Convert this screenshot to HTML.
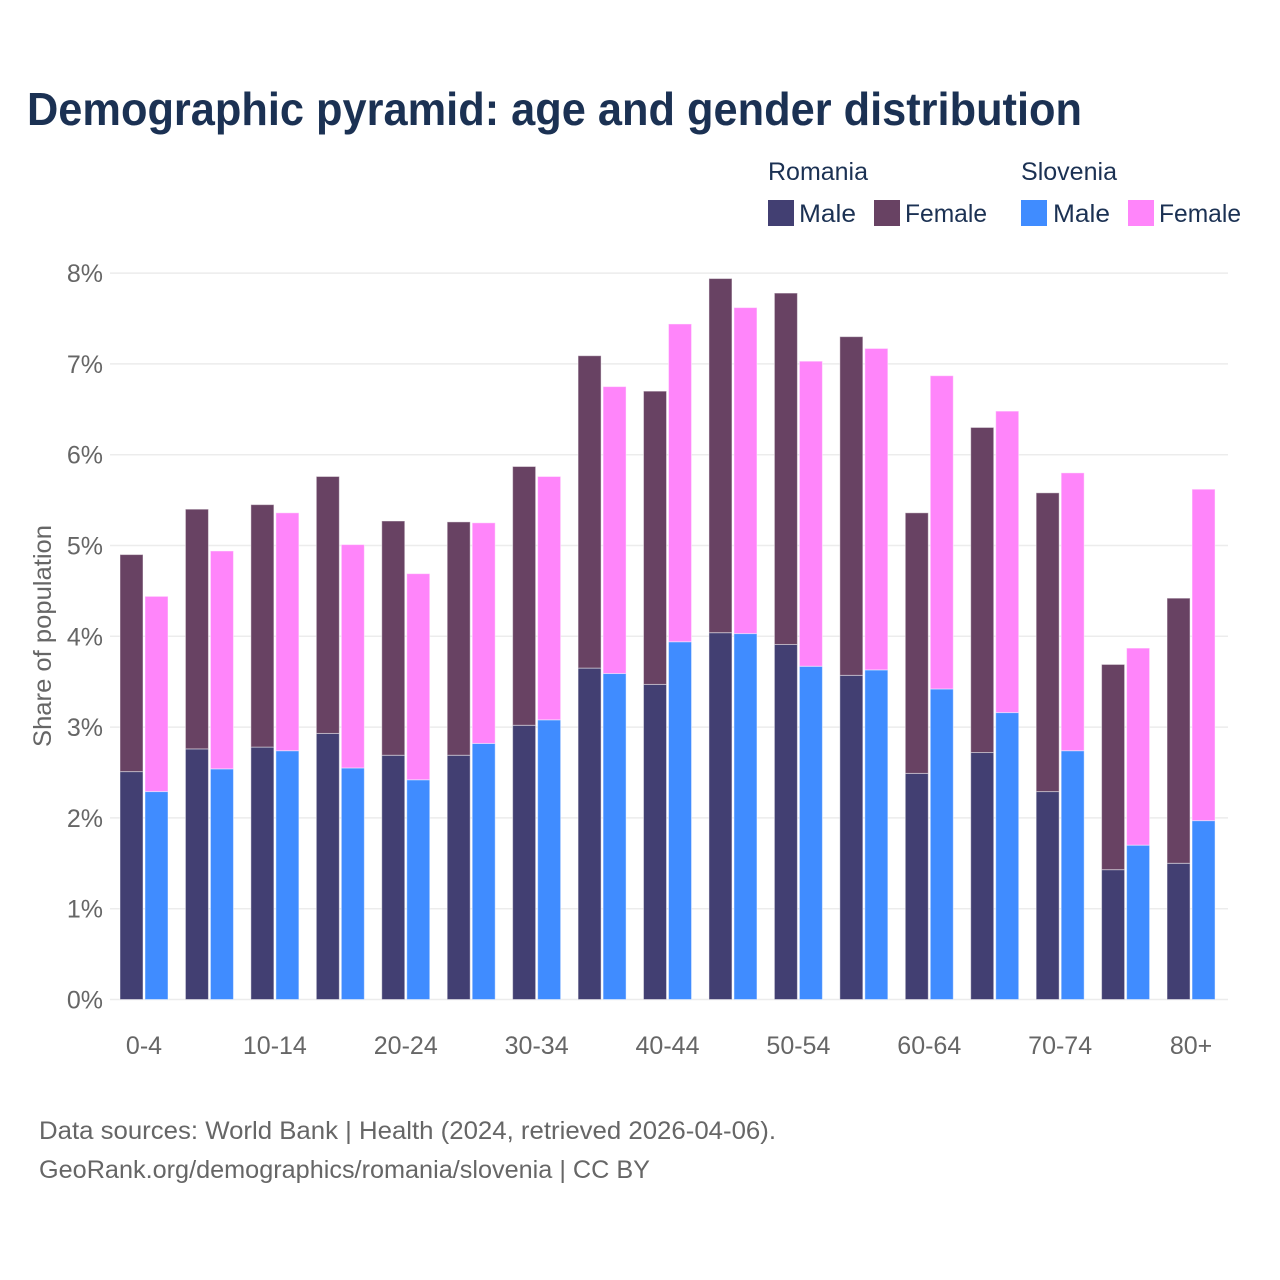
<!DOCTYPE html>
<html lang="en">
<head>
<meta charset="utf-8">
<title>Demographic pyramid</title>
<style>
html,body{margin:0;padding:0;background:#fff;}
svg{display:block;font-family:"Liberation Sans",sans-serif;}
.dark{fill:#1b3153;}
.grey{fill:#666;}
</style>
</head>
<body>
<svg id="chart" width="1280" height="1280" viewBox="0 0 1280 1280" xmlns="http://www.w3.org/2000/svg">
  <text class="dark" x="27" y="125" font-size="46" font-weight="700" textLength="1055" lengthAdjust="spacingAndGlyphs">Demographic pyramid: age and gender distribution</text>

  <g font-size="25" class="dark">
    <text x="768" y="180" textLength="100" lengthAdjust="spacingAndGlyphs">Romania</text>
    <text x="1021" y="180" textLength="96" lengthAdjust="spacingAndGlyphs">Slovenia</text>
    <rect x="768" y="200" width="26" height="26" fill="#423f72"/>
    <text x="799" y="222" textLength="57" lengthAdjust="spacingAndGlyphs">Male</text>
    <rect x="874" y="200" width="26" height="26" fill="#684263"/>
    <text x="905" y="222" textLength="82" lengthAdjust="spacingAndGlyphs">Female</text>
    <rect x="1021" y="200" width="26" height="26" fill="#408cff"/>
    <text x="1053" y="222" textLength="57" lengthAdjust="spacingAndGlyphs">Male</text>
    <rect x="1128" y="200" width="26" height="26" fill="#ff85fa"/>
    <text x="1159" y="222" textLength="82" lengthAdjust="spacingAndGlyphs">Female</text>
  </g>

  <g id="grid"></g>
  <g id="bars"></g>
  <g id="yticks"></g>
  <g id="xticks"></g>

  <text class="grey" font-size="25" text-anchor="middle" transform="translate(51 636) rotate(-90)" textLength="222" lengthAdjust="spacingAndGlyphs">Share of population</text>

  <text class="grey" x="39" y="1139" font-size="25" textLength="737" lengthAdjust="spacingAndGlyphs">Data sources: World Bank | Health (2024, retrieved 2026-04-06).</text>
  <text class="grey" x="39" y="1178" font-size="25" textLength="611" lengthAdjust="spacingAndGlyphs">GeoRank.org/demographics/romania/slovenia | CC BY</text>
</svg>
<script>
const categories = ['0-4','5-9','10-14','15-19','20-24','25-29','30-34','35-39','40-44','45-49','50-54','55-59','60-64','65-69','70-74','75-79','80+'];
const romaniaMale = [2.51,2.76,2.78,2.93,2.69,2.69,3.02,3.65,3.47,4.04,3.91,3.57,2.49,2.72,2.29,1.43,1.50];
const romaniaFemale = [2.39,2.64,2.67,2.83,2.58,2.57,2.85,3.44,3.23,3.90,3.87,3.73,2.87,3.58,3.29,2.26,2.92];
const sloveniaMale = [2.29,2.54,2.74,2.55,2.42,2.82,3.08,3.59,3.94,4.03,3.67,3.63,3.42,3.16,2.74,1.70,1.97];
const sloveniaFemale = [2.15,2.40,2.62,2.46,2.27,2.43,2.68,3.16,3.50,3.59,3.36,3.54,3.45,3.32,3.06,2.17,3.65];
const yTicks = [0,1,2,3,4,5,6,7,8];
const xTickLabels = ['0-4','','10-14','','20-24','','30-34','','40-44','','50-54','','60-64','','70-74','','80+'];

const NS = 'http://www.w3.org/2000/svg';
const yScale = v => 999.5 - v * 90.8;
const xScale = i => 120 + i * 65.44;
const barWidth = 23;
const barGap = 25;

function make(tag, parent, attrs) {
  const el = document.createElementNS(NS, tag);
  for (const k in attrs) el.setAttribute(k, attrs[k]);
  parent.appendChild(el);
  return el;
}

const grid = document.getElementById('grid');
const yticksG = document.getElementById('yticks');
yTicks.forEach(t => {
  const line = make('line', grid, {x1: 110, x2: 1228, y1: yScale(t), y2: yScale(t), stroke: '#ececec', 'stroke-width': 1.5});
  
  
  const label = make('text', yticksG, {x: 103, y: yScale(t) + 9, 'text-anchor': 'end', 'font-size': 25, fill: '#666'});
  
  
  label.textContent = t + '%';
});

const barsG = document.getElementById('bars');
function drawStack(i, offset, male, female, maleColor, femaleColor, country) {
  const x = xScale(i) + offset;
  const maleTop = yScale(male);
  const totalTop = yScale(male + female);
  const m = make('rect', barsG, {x: x, y: maleTop, width: barWidth, height: yScale(0) - maleTop, fill: maleColor, stroke: '#fff', 'stroke-opacity': 0.45, 'stroke-width': 1});
  
  
  const f = make('rect', barsG, {x: x, y: totalTop, width: barWidth, height: maleTop - totalTop, fill: femaleColor, stroke: '#fff', 'stroke-opacity': 0.45, 'stroke-width': 1});
  
  
}

const xticksG = document.getElementById('xticks');
categories.forEach((c, i) => {
  drawStack(i, 0, romaniaMale[i], romaniaFemale[i], '#423f72', '#684263', 'romania');
  drawStack(i, barGap, sloveniaMale[i], sloveniaFemale[i], '#408cff', '#ff85fa', 'slovenia');
  if (xTickLabels[i]) {
    const label = make('text', xticksG, {x: xScale(i) + 24, y: 1054, 'text-anchor': 'middle', 'font-size': 25, fill: '#666'});
    
    
    label.textContent = xTickLabels[i];
  }
});
</script>
</body>
</html>
